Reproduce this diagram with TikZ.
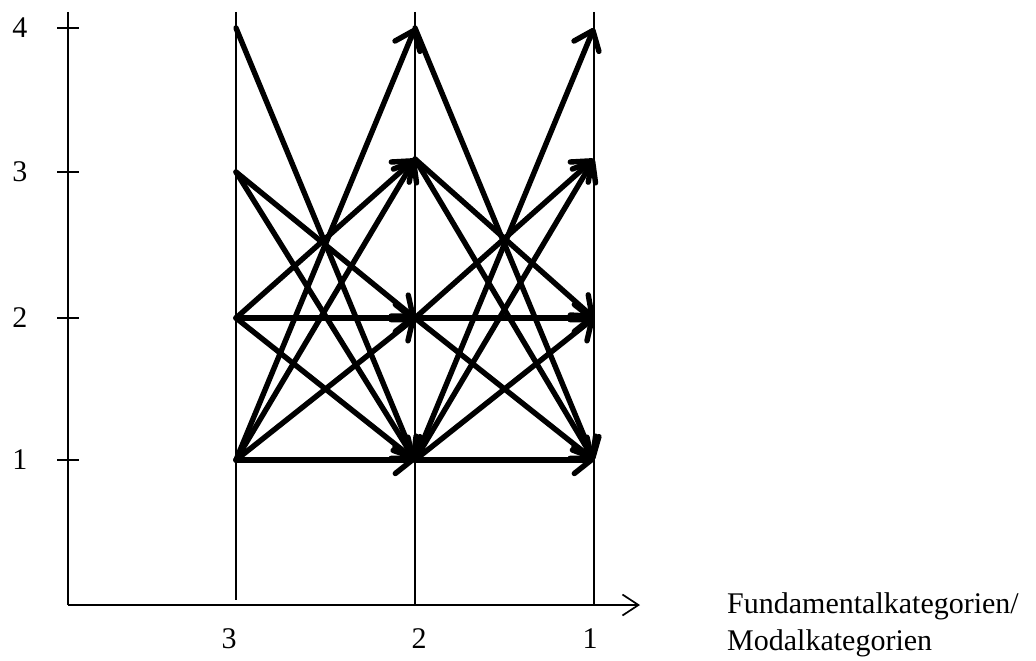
\documentclass[tikz,border=0pt]{standalone}
\usepackage{fontspec}
\setmainfont{Liberation Serif}
\usetikzlibrary{arrows.meta}
\tikzset{
  thinline/.style={line width=1.7pt, line cap=butt},
  flow/.style={line width=5.4pt, line cap=round, line join=round,
    -{Straight Barb[length=17pt,width=27pt,line cap=round,line join=round]}},
  lbl/.style={font=\fontsize{30}{37}\selectfont, inner sep=0pt}
}
\begin{document}
\begin{tikzpicture}[x=1pt,y=-1pt]
\useasboundingbox (0,0) rectangle (1036,661);
% axes
\coordinate (yaxtop) at (68,12);
\coordinate (origin) at (68,605);
\coordinate (xaxend) at (640,605);
\draw[thinline] (yaxtop) -- (origin);
\draw[thinline, -{Straight Barb[length=16pt,width=21pt]}] (origin) -- (xaxend);
% ticks on y axis
\foreach \y/\t in {28/4,172/3,318/2,460/1}{
  \draw[thinline] (57,\y) -- (79,\y);
  \node[lbl] (ylab\t) at (20,\y) {\t};
}
% vertical lines
\coordinate (v3top) at (236,12); \coordinate (v3bot) at (236,600);
\coordinate (v2top) at (415,12); \coordinate (v2bot) at (415,605);
\coordinate (v1top) at (594,12); \coordinate (v1bot) at (594,605);
\draw[thinline] (v3top) -- (v3bot);
\draw[thinline] (v2top) -- (v2bot);
\draw[thinline] (v1top) -- (v1bot);
% x labels
\node[lbl] (xlab3) at (229,639) {3};
\node[lbl] (xlab2) at (419,639) {2};
\node[lbl] (xlab1) at (590,639) {1};
\node[lbl, anchor=base west] (cat1) at (727,613) {Fundamentalkategorien/};
\node[lbl, anchor=base west] (cat2) at (727,650) {Modalkategorien};
% points
\coordinate (a4) at (236,28);  \coordinate (a3) at (236,172);
\coordinate (a2) at (236,318); \coordinate (a1) at (236,460);
\coordinate (b4) at (415,28);  \coordinate (b3) at (415,159);
\coordinate (b2) at (415,318); \coordinate (b1) at (415,460);
\coordinate (c4) at (594,28);  \coordinate (c3) at (594,159);
\coordinate (c2) at (594,318); \coordinate (c1) at (594,460);
% arrows
\foreach \s/\t in {a/b,b/c}{
  \foreach \i/\j in {4/1,3/2,3/1,2/3,2/2,2/1,1/4,1/3,1/2,1/1}{
    \draw[flow] (\s\i) -- (\t\j);
  }
}
\end{tikzpicture}
\end{document}
